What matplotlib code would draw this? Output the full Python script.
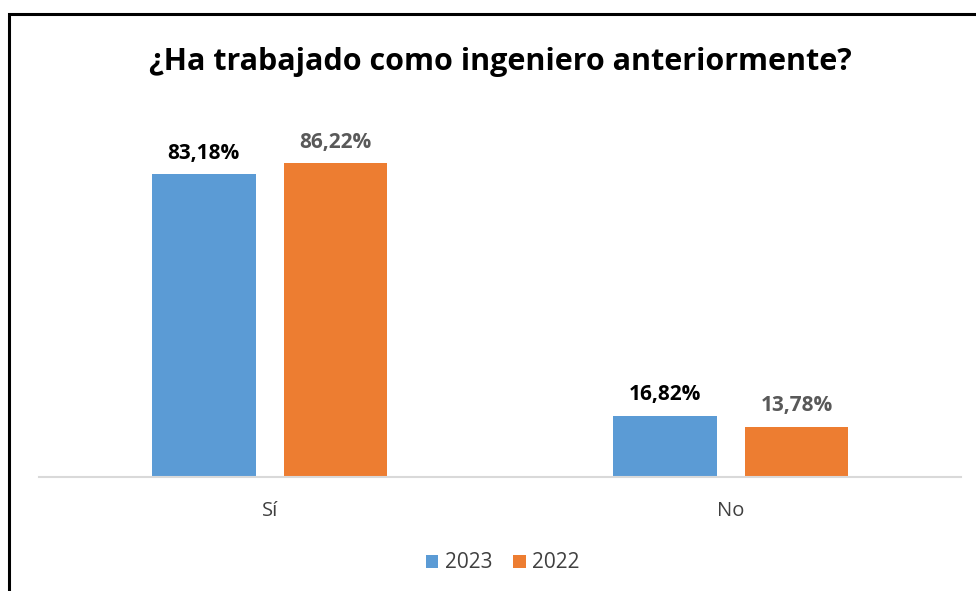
import numpy as np
import matplotlib.pyplot as plt
from matplotlib.patches import Rectangle

categories = ['Sí', 'No']
years = ['2023', '2022']
values_2023 = [83.18, 16.82]
values_2022 = [86.22, 13.78]
title = '¿Ha trabajado como ingeniero anteriormente?'

colors = ['#5b9bd5', '#ed7d31']
label_colors = ['#000000', '#595959']

plt.rcParams['font.family'] = ['Open Sans', 'DejaVu Sans']

fig = plt.figure(figsize=(9.76, 5.91), dpi=100)
ax = fig.add_axes([0.04, 1 - 477/591, 0.945, 364/591])

x = np.arange(len(categories))
w = 0.225
off = 0.1426
series = [values_2023, values_2022]
for i, vals in enumerate(series):
    pos = x + (-off if i == 0 else off)
    bars = ax.bar(pos, vals, width=w, color=colors[i], label=years[i], zorder=2)
    for b, v in zip(bars, vals):
        ax.text(b.get_x() + b.get_width()/2, v + 5.8, f'{v:.2f}%'.replace('.', ','),
                ha='center', va='center', fontsize=15, fontweight='bold',
                color=label_colors[i])

ax.set_xlim(-0.5, 1.5)
ax.set_ylim(0, 100)
ax.set_xticks(x)
ax.set_xticklabels(categories, fontsize=14.5, color='#404040')
ax.tick_params(axis='x', length=0, pad=17)
ax.set_yticks([])
for s in ['left', 'right', 'top']:
    ax.spines[s].set_visible(False)
ax.spines['bottom'].set_color('#d9d9d9')
ax.spines['bottom'].set_linewidth(1.5)

fig.text(500/976, 1 - 62/591, title, ha='center', va='center', fontsize=22,
         fontweight='bold', color='#000000')

fig.legend(loc='center', bbox_to_anchor=(0.515, 1 - 563/591), ncol=2, frameon=False,
           fontsize=15, handlelength=0.6, handleheight=0.6, handletextpad=0.3,
           columnspacing=1.0, labelcolor='#404040')

# black frame around the chart (cut at right and bottom)
fig.patches.append(Rectangle((9/976, -0.1), 1.2, 1 - 14/591 + 0.1,
                             transform=fig.transFigure, fill=False,
                             edgecolor='black', linewidth=2.2))

fig.savefig('out.png', dpi=100)
